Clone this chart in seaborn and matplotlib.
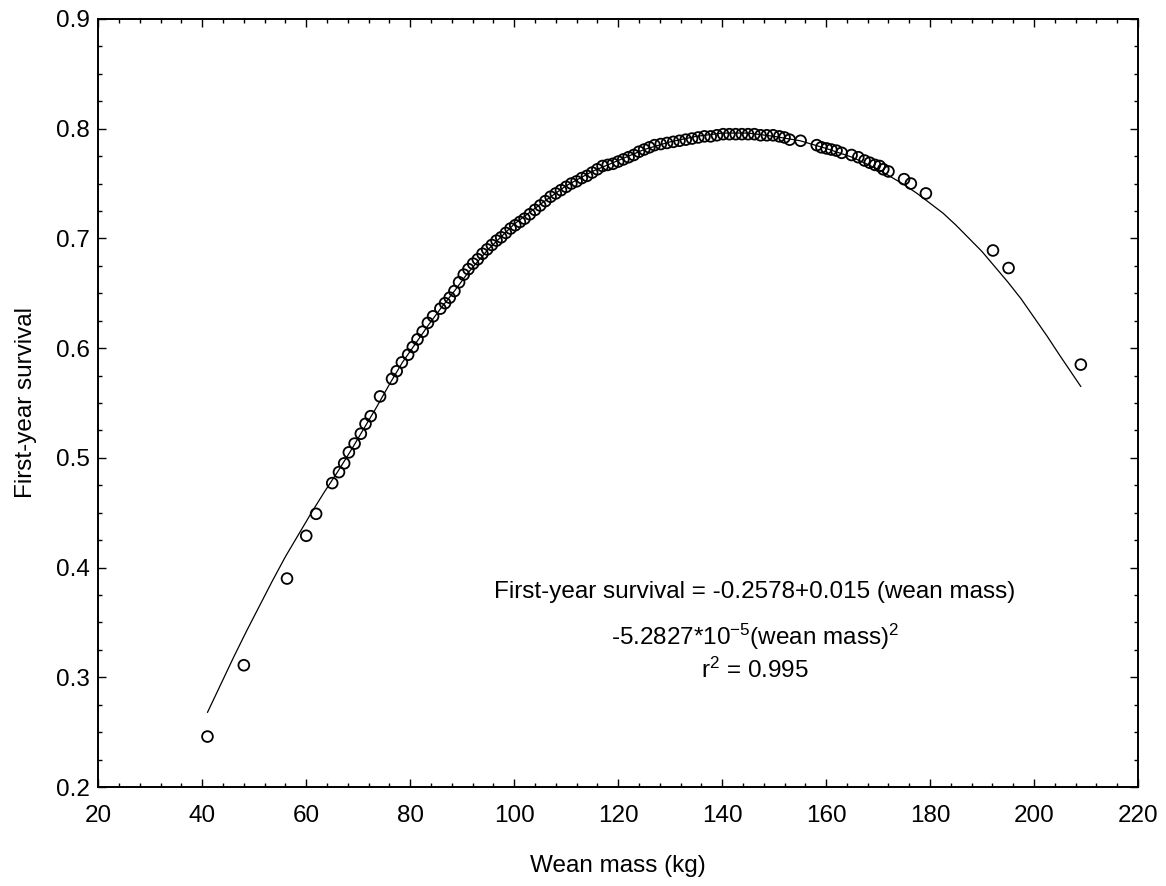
import matplotlib
matplotlib.use("Agg")
import matplotlib.pyplot as plt
from matplotlib.ticker import MultipleLocator
import seaborn as sns
import pandas as pd

# values
wean_mass = [
    41.0, 48.0, 56.3, 60.0, 61.9, 65.0, 66.3, 67.3, 68.2, 69.3, 70.5, 71.4, 72.4,
    74.2, 76.5, 77.4, 78.4, 79.6, 80.5, 81.4, 82.4, 83.4, 84.4, 85.8, 86.7,
    87.6, 88.5, 89.4, 90.3, 91.2, 92.1, 93.0, 93.9, 94.8, 95.7, 96.6, 97.5,
    98.4, 99.3, 100.2, 101.1, 102.0, 103.0, 104.0, 105.0, 106.0, 107.0, 108.0,
    109.0, 110.0, 111.0, 112.0, 113.0, 114.0, 115.0, 116.0, 117.0, 118.0, 119.0,
    120.0, 121.0, 122.0, 123.0, 124.0, 125.0, 126.0, 127.0, 128.2, 129.4, 130.6,
    131.8, 133.0, 134.2, 135.4, 136.6, 137.8, 139.0, 140.2, 141.4, 142.6, 143.8,
    145.0, 146.2, 147.4, 148.6, 149.8, 151.0, 152.0, 153.0, 155.1, 158.2, 159.1,
    160.1, 161.0, 162.0, 163.0, 164.9, 166.2, 167.4, 168.4, 169.4, 170.3, 171.0,
    172.0, 175.0, 176.3, 179.2, 192.1, 195.1, 209.0,
]
survival = [
    0.246, 0.311, 0.390, 0.429, 0.449, 0.477, 0.487, 0.495, 0.505, 0.513, 0.522, 0.531, 0.538,
    0.556, 0.572, 0.579, 0.587, 0.594, 0.601, 0.608, 0.615, 0.623, 0.629, 0.636, 0.641,
    0.646, 0.652, 0.660, 0.667, 0.672, 0.677, 0.681, 0.686, 0.690, 0.694, 0.698, 0.701,
    0.705, 0.709, 0.712, 0.715, 0.718, 0.722, 0.726, 0.730, 0.734, 0.738, 0.741,
    0.744, 0.747, 0.750, 0.752, 0.755, 0.757, 0.760, 0.763, 0.766, 0.767, 0.768,
    0.770, 0.772, 0.774, 0.776, 0.779, 0.781, 0.783, 0.785, 0.786, 0.787, 0.788,
    0.789, 0.790, 0.791, 0.792, 0.793, 0.793, 0.794, 0.795, 0.795, 0.795, 0.795,
    0.795, 0.795, 0.794, 0.794, 0.794, 0.793, 0.792, 0.790, 0.789, 0.785, 0.783,
    0.782, 0.781, 0.780, 0.778, 0.776, 0.774, 0.771, 0.769, 0.767, 0.766, 0.763,
    0.761, 0.754, 0.750, 0.741, 0.689, 0.673, 0.585,
]

# fitted curve
fit_mass = [41, 43.5, 46, 48.5, 51, 53.5, 56, 58.5, 61, 63.5, 66, 68.5, 71, 73.5,
            76, 78.5, 81, 83.5, 86, 88.5, 91, 95, 100, 105, 110, 115, 120,
            125, 130, 135, 140, 145, 150, 155, 160, 165, 170, 172.5, 175, 177.5,
            180, 182.5, 185, 187.5, 190, 192.5, 195, 197.5, 200, 202.5, 205, 207, 209]
fit_survival = [0.268, 0.293, 0.318, 0.342, 0.365, 0.388, 0.410, 0.430, 0.450, 0.469,
                0.487, 0.506, 0.526, 0.546, 0.567, 0.587, 0.604, 0.621, 0.637, 0.652,
                0.668, 0.690, 0.713, 0.731, 0.748, 0.761, 0.771, 0.781, 0.788, 0.793,
                0.796, 0.796, 0.793, 0.789, 0.782, 0.774, 0.763, 0.756, 0.749, 0.741,
                0.732, 0.723, 0.712, 0.700, 0.688, 0.674, 0.660, 0.645, 0.628, 0.611,
                0.593, 0.579, 0.565]

df = pd.DataFrame({"wean_mass": wean_mass, "survival": survival})
fit = pd.DataFrame({"wean_mass": fit_mass, "survival": fit_survival})

sns.set_style("ticks")
plt.rcParams["font.family"] = ["Liberation Sans", "DejaVu Sans"]
plt.rcParams["mathtext.fontset"] = "custom"
plt.rcParams["mathtext.rm"] = "Liberation Sans"
plt.rcParams["mathtext.it"] = "Liberation Sans"
for key in ["text.color", "axes.labelcolor", "xtick.color", "ytick.color", "axes.edgecolor"]:
    plt.rcParams[key] = "black"

fs = 17.5
fig = plt.figure(figsize=(11.66, 8.86), dpi=100)
ax = fig.add_axes([0.0843, 0.1117, 0.8917, 0.8669])

sns.lineplot(x="wean_mass", y="survival", data=fit, color="black", lw=0.9, sort=False, ax=ax)
sns.scatterplot(x="wean_mass", y="survival", data=df, marker="o", s=60,
                facecolors="none", edgecolors="black", linewidths=1.3, ax=ax, zorder=3)

ax.set_xlim(20, 220)
ax.set_ylim(0.2, 0.9)
ax.xaxis.set_major_locator(MultipleLocator(20))
ax.xaxis.set_minor_locator(MultipleLocator(4))
ax.yaxis.set_major_locator(MultipleLocator(0.1))
ax.yaxis.set_minor_locator(MultipleLocator(0.025))
ax.tick_params(which="both", direction="in", top=True, right=True, labelsize=fs, width=1.0)
ax.tick_params(which="major", length=6)
ax.tick_params(which="minor", length=3)
ax.tick_params(axis="x", which="major", pad=13)
ax.tick_params(axis="y", which="major", pad=6)
for sp in ax.spines.values():
    sp.set_linewidth(1.4)
    sp.set_color("black")

ax.set_xlabel("Wean mass (kg)", fontsize=fs, labelpad=20)
ax.set_ylabel("First-year survival", fontsize=fs, labelpad=14)

ax.text(146.3, 0.378, "First-year survival = -0.2578+0.015 (wean mass)",
        ha="center", va="center", fontsize=fs)
ax.text(146.3, 0.337, r"-5.2827*10$^{-5}$(wean mass)$^{2}$",
        ha="center", va="center", fontsize=fs)
ax.text(146.3, 0.306, r"r$^{2}$ = 0.995",
        ha="center", va="center", fontsize=fs)

fig.savefig("out.png", dpi=100)
